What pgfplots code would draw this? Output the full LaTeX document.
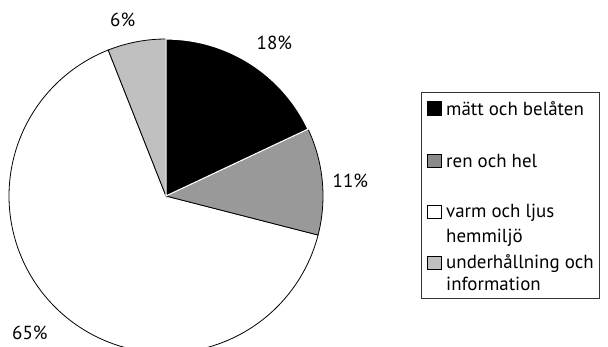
\documentclass[border=0pt]{standalone}
\usepackage{fontspec}
\setmainfont{PT Sans}
\usepackage{pgfplots}
\usepackage{pgfplotstable}
\pgfplotsset{compat=1.18}

\pgfplotstableread{
share
18
11
65
6
}\piedata

\definecolor{darkg}{HTML}{999999}
\definecolor{lightg}{HTML}{C0C0C0}

\pgfplotstablegetelem{0}{share}\of\piedata \let\vA\pgfplotsretval
\pgfplotstablegetelem{1}{share}\of\piedata \let\vB\pgfplotsretval
\pgfplotstablegetelem{2}{share}\of\piedata \let\vC\pgfplotsretval
\pgfplotstablegetelem{3}{share}\of\piedata \let\vD\pgfplotsretval
\pgfmathsetmacro\aO{90}
\pgfmathsetmacro\aA{90-3.6*\vA}
\pgfmathsetmacro\aB{\aA-3.6*\vB}
\pgfmathsetmacro\aC{\aB-3.6*\vC}
\pgfmathsetmacro\aD{\aC-3.6*\vD}
\def\cx{166}
\def\cy{151}
\def\rr{157}

\begin{document}
\fontsize{19}{22.8}\selectfont
\begin{tikzpicture}
\begin{axis}[
  scale only axis, width=608bp, height=347bp,
  xmin=0, xmax=608, ymin=0, ymax=347,
  hide axis, clip=true,
]
% white wedge
\addplot[fill=white, draw=black, line width=0.8pt, domain=\aC:\aB, samples=150, variable=\t]
  ({\cx+\rr*cos(\t)},{\cy+\rr*sin(\t)}) -- (axis cs:\cx,\cy) -- cycle;
% dark gray wedge
\addplot[fill=darkg, draw=black, line width=0.8pt, domain=\aB:\aA, samples=40, variable=\t]
  ({\cx+\rr*cos(\t)},{\cy+\rr*sin(\t)}) -- (axis cs:\cx,\cy) -- cycle;
% light gray wedge
\addplot[fill=lightg, draw=black, line width=0.8pt, domain=\aD:\aC, samples=30, variable=\t]
  ({\cx+\rr*cos(\t)},{\cy+\rr*sin(\t)}) -- (axis cs:\cx,\cy) -- cycle;
% black wedge
\addplot[fill=black, draw=white, line width=1.2pt, domain=\aA:\aO, samples=60, variable=\t]
  ({\cx+\rr*cos(\t)},{\cy+\rr*sin(\t)}) -- (axis cs:\cx,\cy) -- cycle;

% pie labels
\node[anchor=base west, inner sep=0pt] at (axis cs:256.5,297) {18\%};
\node[anchor=base west, inner sep=0pt] at (axis cs:332.5,159) {11\%};
\node[anchor=base west, inner sep=0pt] at (axis cs:12,7) {65\%};
\node[anchor=base west, inner sep=0pt] at (axis cs:110,320) {6\%};

% legend
\draw[line width=0.8pt, black!80] (axis cs:421.5,255) rectangle (axis cs:599,49);
\draw[fill=black, line width=0.6pt] (axis cs:427,246) rectangle (axis cs:441,232);
\draw[fill=darkg!90!black, line width=0.6pt] (axis cs:427,193) rectangle (axis cs:441,179.5);
\draw[fill=white, line width=0.6pt] (axis cs:427,142) rectangle (axis cs:441,129);
\draw[fill=lightg, line width=0.6pt] (axis cs:427,91) rectangle (axis cs:441,78);
\node[anchor=base west, inner sep=0pt] at (axis cs:446,231) {mätt och belåten};
\node[anchor=base west, inner sep=0pt] at (axis cs:446,179) {ren och hel};
\node[anchor=base west, inner sep=0pt] at (axis cs:446,129) {varm och ljus};
\node[anchor=base west, inner sep=0pt] at (axis cs:446,104) {hemmiljö};
\node[anchor=base west, inner sep=0pt] at (axis cs:446,78) {underhållning och};
\node[anchor=base west, inner sep=0pt] at (axis cs:446,56) {information};
\end{axis}
\pgfresetboundingbox
\path (current axis.south west) rectangle (current axis.north east);
\end{tikzpicture}
\end{document}
